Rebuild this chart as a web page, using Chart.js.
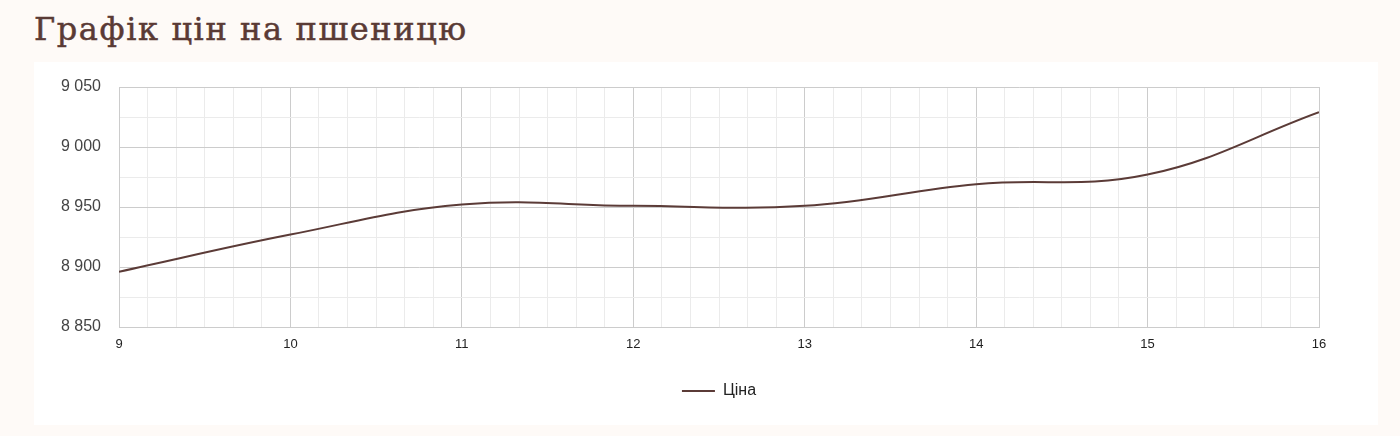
<!DOCTYPE html>
<html><head><meta charset="utf-8">
<script src="https://cdn.jsdelivr.net/npm/chart.js@4"></script>
<style>
html,body{margin:0;padding:0;background:#fefaf7;width:1400px;height:436px;overflow:hidden;}
h1{position:absolute;left:34px;top:10px;margin:0;font-family:"DejaVu Serif",serif;font-weight:normal;font-size:32px;line-height:38px;color:#5a3a35;letter-spacing:1.6px;-webkit-text-stroke:0.5px #5a3a35;}
#card{position:absolute;left:34px;top:62px;width:1344px;height:363px;background:#fff;}
#c{position:absolute;left:0;top:0;}
</style></head>
<body>
<h1>Графік цін на пшеницю</h1>
<div id="card"><canvas id="c" width="1344" height="363"></canvas></div>
<script>
const days = [9, 10, 11, 12, 13, 14, 15, 16];
const prices = [8896, 8927, 8952, 8951, 8951, 8969, 8977, 9029];
const seriesLabel = 'Ціна';
const yMin = 8850, yMax = 9050, yStep = 25;
const xMin = 9, xMax = 16, xMinorDiv = 6;

const lineColor = '#5b3b37';
const isInt = v => Math.abs(v - Math.round(v)) < 1e-6;
const fmt = v => String(Math.round(v)).replace(/\B(?=(\d{3})+(?!\d))/g, ' ');
const FONT = 'Arial, "Liberation Sans", sans-serif';

// center the legend under the plot area (not under the whole canvas)
const legendUnderPlot = {
  id: 'legendUnderPlot',
  afterLayout(chart) {
    const ca = chart.chartArea;
    if (chart.legend) { chart.legend.left = ca.left; chart.legend.right = ca.right; }
  }
};

new Chart(document.getElementById('c'), {
  type: 'line',
  data: {
    datasets: [{
      label: seriesLabel,
      data: days.map((d, i) => ({x: d, y: prices[i]})),
      borderColor: lineColor,
      backgroundColor: lineColor,
      borderWidth: 2,
      pointRadius: 0,
      tension: 0.4,
      fill: false
    }]
  },
  plugins: [legendUnderPlot],
  options: {
    responsive: false,
    animation: false,
    devicePixelRatio: 1,
    layout: {padding: {left: 0, right: 59, top: 25, bottom: 16}},
    plugins: {
      tooltip: {enabled: false},
      legend: {
        position: 'bottom',
        labels: {
          usePointStyle: true, pointStyle: 'line', pointStyleWidth: 33,
          font: {family: FONT, size: 16},
          color: '#222', padding: 10
        }
      }
    },
    scales: {
      x: {
        type: 'linear', min: xMin, max: xMax,
        afterBuildTicks: ax => {
          const t = [];
          for (let i = 0; i <= (xMax - xMin) * xMinorDiv; i++) t.push({value: xMin + i / xMinorDiv});
          ax.ticks = t;
        },
        afterFit: s => { s.height = 46; s.paddingLeft = 0; s.paddingRight = 0; },
        ticks: {
          autoSkip: false, maxRotation: 0, padding: 10,
          callback: v => isInt(v) ? String(Math.round(v)) : '',
          font: {family: FONT, size: 13},
          color: '#222'
        },
        grid: {
          drawTicks: false,
          color: c => isInt(c.tick.value) ? '#cccccc' : '#ebebeb',
          lineWidth: 1
        },
        border: {color: '#cccccc'}
      },
      y: {
        min: yMin, max: yMax,
        afterBuildTicks: ax => {
          const t = [];
          for (let v = yMin; v <= yMax; v += yStep) t.push({value: v});
          ax.ticks = t;
        },
        afterFit: s => { s.width = 85; s.paddingTop = 0; s.paddingBottom = 0; },
        ticks: {
          autoSkip: false, padding: 18,
          callback: v => (v % 50 === 0) ? fmt(v) : '',
          font: {family: FONT, size: 16},
          color: '#444'
        },
        grid: {
          drawTicks: false,
          color: c => (c.tick.value % 50 === 0) ? '#cccccc' : '#ebebeb',
          lineWidth: 1
        },
        border: {color: '#cccccc'}
      }
    }
  }
});
</script>
</body></html>
